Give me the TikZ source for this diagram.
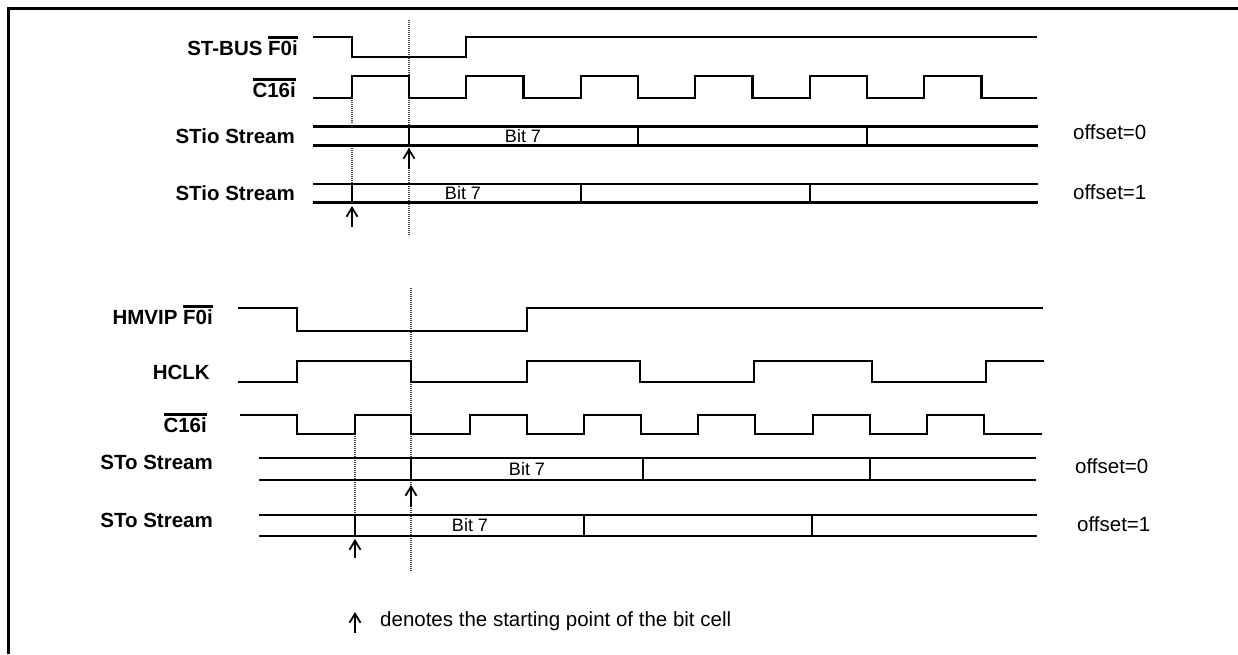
\documentclass[tikz,border=0pt]{standalone}
\usepackage{fontspec}
\setmainfont{Liberation Sans}
\usetikzlibrary{arrows.meta}
\newcommand{\ovl}[1]{\leavevmode\vbox{\hrule height 2.6pt\kern 2.2pt\hbox{#1}}}
\tikzset{
  sig/.style={line width=2.5pt, line join=miter},
  strm/.style={line width=2.5pt},
  guide/.style={line width=1.5pt, gray!55!black, dash pattern=on 1.2pt off 0.8pt},
  lbl/.style={font=\fontsize{20.5}{24}\selectfont\bfseries, inner sep=0pt},
  offl/.style={font=\fontsize{20.5}{24}\selectfont, inner sep=0pt, anchor=west},
  bitl/.style={font=\fontsize{18}{22}\selectfont, inner sep=0pt},
  uparr/.style={line width=1.8pt, -{Straight Barb[length=9pt,width=11pt,line width=1.8pt]}},
  frame/.style={line width=3pt}
}
\begin{document}
\begin{tikzpicture}[x=1pt,y=-1pt]
\useasboundingbox (0,0) rectangle (1238,654);
% frame
\draw[frame] (8.5,654) -- (8.5,8.5) -- (1238,8.5);

% ---------------- top section ----------------
% guides
\draw[guide] (409,20) -- (409,236);
\draw[guide] (352,98) -- (352,124);
\draw[guide] (352,148) -- (352,183);

\node[lbl, anchor=east] (stbus) at (298,46) {ST-BUS \ovl{F0i}};
\draw[sig] (313,37) -- (352,37) -- (352,57) -- (466,57) -- (466,37) -- (1037,37);

\node[lbl, anchor=east] (c16a) at (296,88) {\ovl{C16i}};
\draw[sig] (313,98) -- (352,98) -- (352,76) -- (409,76) -- (409,98) -- (466,98) -- (466,76)
  -- (523.5,76) -- (523.5,98) -- (581,98) -- (581,76) -- (638,76) -- (638,98) -- (695,98)
  -- (695,76) -- (752.5,76) -- (752.5,98) -- (810,98) -- (810,76) -- (867,76) -- (867,98)
  -- (924,98) -- (924,76) -- (981.5,76) -- (981.5,98) -- (1037,98);

\node[lbl, anchor=east] (stio0) at (295,136) {STio Stream};
\draw[strm] (313,126.5) -- (1038,126.5);
\draw[strm] (313,145.5) -- (1038,145.5);
\draw[strm] (409,126.5) -- (409,145.5);
\draw[strm] (638,126.5) -- (638,145.5);
\draw[strm] (867,126.5) -- (867,145.5);
\node[bitl] (b0) at (523,136) {Bit 7};
\node[offl] (o0) at (1073,132) {offset=0};
\coordinate (a0b) at (409,169);
\coordinate (a0t) at (409,148);
\draw[uparr] (a0b) -- (a0t);

\node[lbl, anchor=east] (stio1) at (295,193) {STio Stream};
\draw[strm] (313,184) -- (1038,184);
\draw[strm] (313,202.5) -- (1038,202.5);
\draw[strm] (352,184) -- (352,202.5);
\draw[strm] (581,184) -- (581,202.5);
\draw[strm] (810,184) -- (810,202.5);
\node[bitl] (b1) at (463,193) {Bit 7};
\node[offl] (o1) at (1073,192) {offset=1};
\coordinate (a1b) at (352,227);
\coordinate (a1t) at (352,206);
\draw[uparr] (a1b) -- (a1t);

% ---------------- bottom section ----------------
\draw[guide] (411,288) -- (411,572);
\draw[guide] (355,434) -- (355,515);

\node[lbl, anchor=east] (hmvip) at (213,315) {HMVIP \ovl{F0i}};
\draw[sig] (238,308) -- (297,308) -- (297,331) -- (527,331) -- (527,308) -- (1043,308);

\node[lbl, anchor=east] (hclk) at (210,372) {HCLK};
\draw[sig] (238,382) -- (297,382) -- (297,361) -- (411,361) -- (411,382) -- (527,382)
  -- (527,361) -- (640,361) -- (640,382) -- (754,382) -- (754,361) -- (872,361)
  -- (872,382) -- (986,382) -- (986,361) -- (1044,361);

\node[lbl, anchor=east] (c16b) at (207,423) {\ovl{C16i}};
\draw[sig] (240,415) -- (297,415) -- (297,434) -- (355,434) -- (355,415) -- (411,415)
  -- (411,434) -- (470,434) -- (470,415) -- (527,415) -- (527,434) -- (584,434)
  -- (584,415) -- (641,415) -- (641,434) -- (698,434) -- (698,415) -- (755,415)
  -- (755,434) -- (813,434) -- (813,415) -- (870,415) -- (870,434) -- (927,434)
  -- (927,415) -- (984,415) -- (984,434) -- (1042,434);

\node[lbl, anchor=east] (sto0) at (213,462) {STo Stream};
\draw[strm] (259,458) -- (1036,458);
\draw[strm] (259,480) -- (1036,480);
\draw[strm] (411,458) -- (411,480);
\draw[strm] (643,458) -- (643,480);
\draw[strm] (870,458) -- (870,480);
\node[bitl] (b2) at (527,469) {Bit 7};
\node[offl] (o2) at (1075,466) {offset=0};
\coordinate (a2b) at (411,507);
\coordinate (a2t) at (411,485);
\draw[uparr] (a2b) -- (a2t);

\node[lbl, anchor=east] (sto1) at (213,520) {STo Stream};
\draw[strm] (259,515) -- (1037,515);
\draw[strm] (259,536) -- (1037,536);
\draw[strm] (355,515) -- (355,536);
\draw[strm] (584,515) -- (584,536);
\draw[strm] (812,515) -- (812,536);
\node[bitl] (b3) at (470,525) {Bit 7};
\node[offl] (o3) at (1077,524) {offset=1};
\coordinate (a3b) at (355,558);
\coordinate (a3t) at (355,539);
\draw[uparr] (a3b) -- (a3t);

% legend
\coordinate (lb) at (355,633);
\coordinate (lt) at (355,612);
\draw[uparr] (lb) -- (lt);
\node[offl] (leg) at (380,621) {denotes the starting point of the bit cell};
\end{tikzpicture}
\end{document}
